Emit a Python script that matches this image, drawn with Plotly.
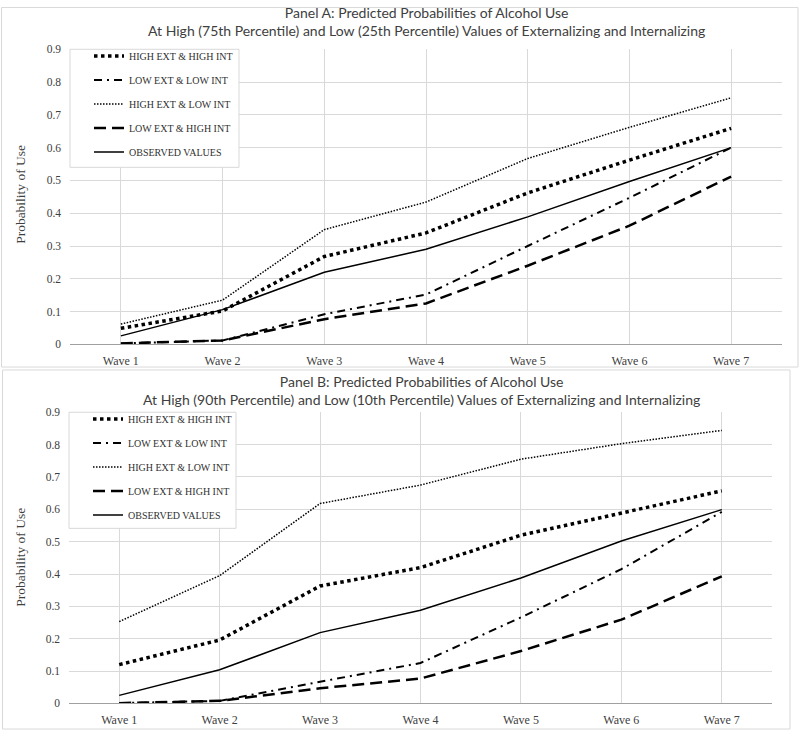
import plotly.graph_objects as go

waves = ["Wave 1", "Wave 2", "Wave 3", "Wave 4", "Wave 5", "Wave 6", "Wave 7"]
series_names = ["HIGH EXT & HIGH INT", "LOW EXT & LOW INT", "HIGH EXT & LOW INT",
                "LOW EXT & HIGH INT", "OBSERVED VALUES"]

# Panel A (75th / 25th percentile)
a_high_high = [0.049, 0.102, 0.268, 0.340, 0.462, 0.562, 0.659]
a_low_low = [0.003, 0.012, 0.092, 0.152, 0.300, 0.447, 0.600]
a_high_low = [0.062, 0.135, 0.350, 0.434, 0.567, 0.662, 0.752]
a_low_high = [0.003, 0.012, 0.077, 0.125, 0.240, 0.362, 0.512]
a_observed = [0.026, 0.106, 0.220, 0.290, 0.389, 0.497, 0.600]

# Panel B (90th / 10th percentile)
b_high_high = [0.120, 0.196, 0.363, 0.420, 0.520, 0.588, 0.657]
b_low_low = [0.001, 0.008, 0.067, 0.125, 0.266, 0.415, 0.592]
b_high_low = [0.253, 0.395, 0.618, 0.675, 0.755, 0.803, 0.844]
b_low_high = [0.001, 0.008, 0.047, 0.077, 0.162, 0.259, 0.393]
b_observed = [0.025, 0.104, 0.219, 0.288, 0.388, 0.502, 0.599]

y_ticks = [0, 0.1, 0.2, 0.3, 0.4, 0.5, 0.6, 0.7, 0.8, 0.9]
y_tick_text = ["0", "0.1", "0.2", "0.3", "0.4", "0.5", "0.6", "0.7", "0.8", "0.9"]

title_a = ("Panel A: Predicted Probabilities of Alcohol Use<br>"
           "At High (75th Percentile) and Low (25th Percentile) Values of Externalizing and Internalizing")
title_b = ("Panel B: Predicted Probabilities of Alcohol Use<br>"
           "At High (90th Percentile) and Low (10th Percentile) Values of Externalizing and Internalizing")
y_title = "Probability of Use"

W, H = 800, 737
styles = [
    dict(width=3.5, dash="dot"),
    dict(width=2, dash="8px,5px,2px,5px"),
    dict(width=1.5, dash="1.5px,1.5px"),
    dict(width=2.5, dash="12px,6px"),
    dict(width=1.5, dash="solid"),
]

fig = go.Figure()
panel_a = [a_high_high, a_low_low, a_high_low, a_low_high, a_observed]
panel_b = [b_high_high, b_low_low, b_high_low, b_low_high, b_observed]
for i, (name, vals) in enumerate(zip(series_names, panel_a)):
    fig.add_trace(go.Scatter(x=waves, y=vals, mode="lines", name=name,
                             line=dict(color="black", **styles[i]),
                             xaxis="x", yaxis="y", legend="legend", legendgroup=f"a{i}"))
for i, (name, vals) in enumerate(zip(series_names, panel_b)):
    fig.add_trace(go.Scatter(x=waves, y=vals, mode="lines", name=name,
                             line=dict(color="black", **styles[i]),
                             xaxis="x2", yaxis="y2", legend="legend2", legendgroup=f"b{i}"))

def px_x(p):
    return p / W

def px_y(p):
    return 1 - p / H

grid = "#d9d9d9"
tick_font = dict(family="Liberation Serif", size=11.5, color="#404040")
xcommon = dict(type="category", categoryorder="array", categoryarray=waves, range=[-0.5, 6.5],
               showgrid=True, gridcolor=grid, gridwidth=1, showline=True, linecolor="#a0a0a0",
               linewidth=1, zeroline=False, ticks="", tickfont=dict(family="Liberation Serif", size=12, color="#404040"),
               ticklabelstandoff=5, fixedrange=True)
ycommon = dict(range=[0, 0.9], tickvals=y_ticks, ticktext=y_tick_text, showgrid=True, gridcolor=grid,
               gridwidth=1, zeroline=False, showline=False, ticks="", tickfont=tick_font,
               ticklabelstandoff=8, fixedrange=True)

legend_common = dict(bgcolor="rgba(0,0,0,0)", borderwidth=0, xanchor="left", yanchor="top",
                     font=dict(family="Liberation Serif", size=10, color="#303030"),
                     tracegroupgap=5, itemwidth=30)

fig.update_layout(
    width=W, height=H, margin=dict(l=0, r=0, t=0, b=0),
    paper_bgcolor="white", plot_bgcolor="white",
    xaxis=dict(domain=[px_x(70), px_x(782)], anchor="y", **xcommon),
    yaxis=dict(domain=[px_y(344), px_y(44)], anchor="x", **ycommon),
    xaxis2=dict(domain=[px_x(69), px_x(772)], anchor="y2", **xcommon),
    yaxis2=dict(domain=[px_y(709), px_y(413)], anchor="x2", **ycommon),
    legend=dict(x=px_x(89), y=px_y(36), **legend_common),
    legend2=dict(x=px_x(88), y=px_y(405), **legend_common),
    showlegend=True,
)

shapes = [
    dict(type="rect", xref="paper", yref="paper", x0=px_x(1.5), x1=px_x(798), y0=px_y(367), y1=px_y(1.5),
         line=dict(color=grid, width=1), fillcolor="rgba(0,0,0,0)", layer="below"),
    dict(type="rect", xref="paper", yref="paper", x0=px_x(2.5), x1=px_x(790), y0=px_y(735), y1=px_y(370),
         line=dict(color=grid, width=1), fillcolor="rgba(0,0,0,0)", layer="below"),
    dict(type="rect", xref="paper", yref="paper", x0=px_x(70), x1=px_x(239), y0=px_y(164), y1=px_y(44),
         line=dict(color=grid, width=1), fillcolor="white", layer="above"),
    dict(type="rect", xref="paper", yref="paper", x0=px_x(69), x1=px_x(236), y0=px_y(531), y1=px_y(413),
         line=dict(color=grid, width=1), fillcolor="white", layer="above"),
]
fig.update_layout(shapes=shapes)

title_font = dict(family="Lato", size=14, color="#404040")
annotations = [
    dict(text=title_a, x=px_x(426), y=px_y(16), xref="paper", yref="paper", showarrow=False,
         font=title_font, align="center", xanchor="center", yanchor="middle"),
    dict(text=title_b, x=px_x(421), y=px_y(391), xref="paper", yref="paper", showarrow=False,
         font=title_font, align="center", xanchor="center", yanchor="middle"),
    dict(text=y_title, x=px_x(21), y=px_y(192), xref="paper", yref="paper", showarrow=False,
         textangle=-90, font=dict(family="Liberation Serif", size=13.5, color="#404040"),
         xanchor="center", yanchor="middle"),
    dict(text=y_title, x=px_x(21), y=px_y(561), xref="paper", yref="paper", showarrow=False,
         textangle=-90, font=dict(family="Liberation Serif", size=13.5, color="#404040"),
         xanchor="center", yanchor="middle"),
]
fig.update_layout(annotations=annotations)

fig.write_html("out.html", config={"displayModeBar": False},
               post_script="document.body.style.margin='0';")
